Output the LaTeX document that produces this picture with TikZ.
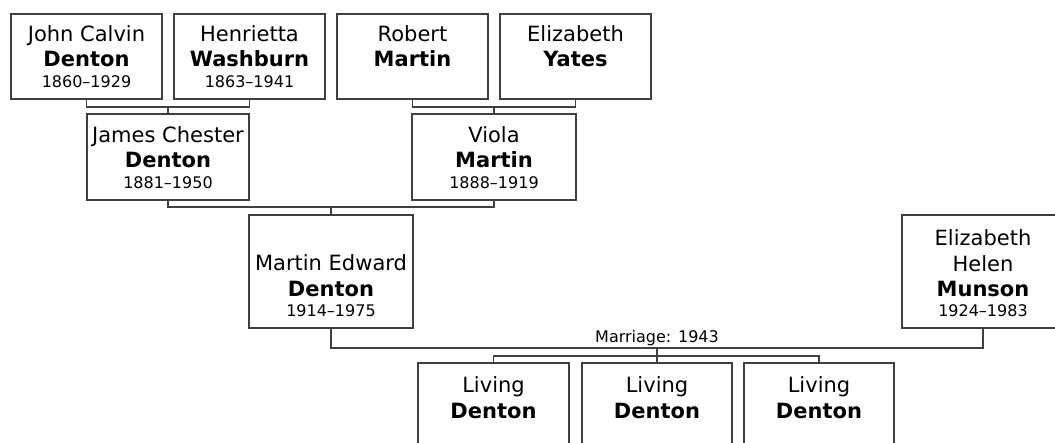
\documentclass[tikz,border=0pt]{standalone}
\usepackage{fontspec}
\setmainfont{DejaVu Sans}
\begin{document}
\begin{tikzpicture}[x=1pt,y=-1pt,
  person/.style={draw=black!75, line width=1.2pt, rectangle, inner sep=0pt, outer sep=0pt, anchor=north west},
  link/.style={draw=black!75, line width=1.2pt},
  nm/.style={anchor=base, inner sep=0pt, font=\fontsize{21}{25}\selectfont},
  sn/.style={anchor=base, inner sep=0pt, font=\fontsize{21}{25}\selectfont\bfseries},
  yr/.style={anchor=base, inner sep=0pt, font=\fontsize{16}{19}\selectfont},
  lab/.style={anchor=base, inner sep=0pt, font=\fontsize{16}{19}\selectfont},
]
\useasboundingbox (0,0) rectangle (1055,443);
\clip (0,0) rectangle (1055,443);
\fill[white] (0,0) rectangle (1055,443);

% boxes
\node[person, minimum width=151pt, minimum height=85pt] (A) at (11,14) {};
\node[person, minimum width=151pt, minimum height=85pt] (B) at (174,14) {};
\node[person, minimum width=151pt, minimum height=85pt] (C) at (337,14) {};
\node[person, minimum width=151pt, minimum height=85pt] (D) at (500,14) {};
\node[person, minimum width=162pt, minimum height=86pt] (E) at (87,114) {};
\node[person, minimum width=164pt, minimum height=86pt] (F) at (412,114) {};
\node[person, minimum width=164pt, minimum height=113pt] (G) at (249,215) {};
\node[person, minimum width=162pt, minimum height=113pt] (H) at (902,215) {};
\node[person, minimum width=151pt, minimum height=100pt] (I) at (418,363) {};
\node[person, minimum width=150pt, minimum height=100pt] (J) at (582,363) {};
\node[person, minimum width=150pt, minimum height=100pt] (K) at (744,363) {};

% texts
\node[nm] (A1) at (86.5,42) {John Calvin};
\node[sn] (A2) at (86.5,67) {Denton};
\node[yr] (A3) at (86.5,88) {1860--1929};

\node[nm] (B1) at (249.5,42) {Henrietta};
\node[sn] (B2) at (249.5,67) {Washburn};
\node[yr] (B3) at (249.5,88) {1863--1941};

\node[nm] (C1) at (412.5,42) {Robert};
\node[sn] (C2) at (412.5,67) {Martin};

\node[nm] (D1) at (575.5,42) {Elizabeth};
\node[sn] (D2) at (575.5,67) {Yates};

\node[nm] (E1) at (168,143) {James Chester};
\node[sn] (E2) at (168,168) {Denton};
\node[yr] (E3) at (168,189) {1881--1950};

\node[nm] (F1) at (494,143) {Viola};
\node[sn] (F2) at (494,168) {Martin};
\node[yr] (F3) at (494,189) {1888--1919};

\node[nm] (G1) at (331,271) {Martin Edward};
\node[sn] (G2) at (331,297) {Denton};
\node[yr] (G3) at (331,317) {1914--1975};

\node[nm] (H1) at (983,246) {Elizabeth};
\node[nm] (H2) at (983,272) {Helen};
\node[sn] (H3) at (983,297) {Munson};
\node[yr] (H4) at (983,317) {1924--1983};

\node[nm] (I1) at (493.5,393) {Living};
\node[sn] (I2) at (493.5,419) {Denton};
\node[nm] (J1) at (657,393) {Living};
\node[sn] (J2) at (657,419) {Denton};
\node[nm] (K1) at (819,393) {Living};
\node[sn] (K2) at (819,419) {Denton};

% connectors
\coordinate (ab) at (168,107);
\draw[link] (A.south) |- (ab) -| (B.south);
\draw[link] (ab) -- (E.north);

\coordinate (cd) at (494,107);
\draw[link] (C.south) |- (cd) -| (D.south);
\draw[link] (cd) -- (F.north);

\coordinate (ef) at (331,207);
\draw[link] (E.south) |- (ef) -| (F.south);
\draw[link] (ef) -- (G.north);

\coordinate (gh) at (657,348);
\draw[link] (G.south) |- (gh) -| (H.south);
\node[lab] (mar) at (657,343) {Marriage: 1943};

\coordinate (kids) at (657,356);
\draw[link] (gh) -- (J.north);
\draw[link] (I.north) |- (kids) -| (K.north);
\end{tikzpicture}
\end{document}
